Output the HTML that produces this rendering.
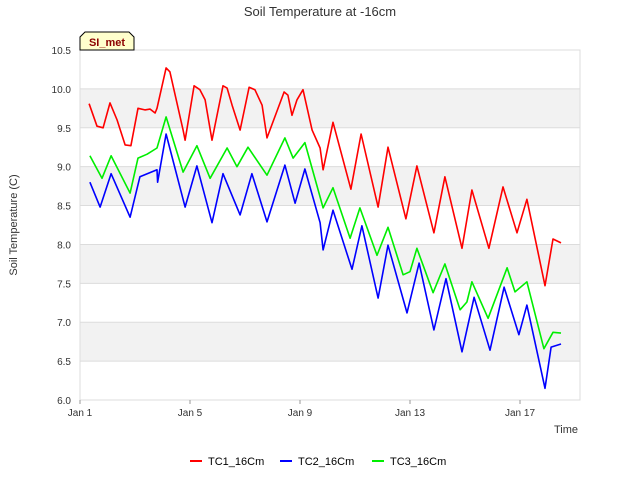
<!DOCTYPE html>
<html><head><meta charset="utf-8"><style>
body{margin:0;background:#fff}
svg text{font-family:"Liberation Sans","DejaVu Sans",sans-serif}
</style></head><body>
<svg id="chart" width="640" height="480" viewBox="0 0 640 480" xmlns="http://www.w3.org/2000/svg">
<rect width="640" height="480" fill="#fff"/>
<text x="320" y="16" text-anchor="middle" font-size="13" fill="#333">Soil Temperature at -16cm</text>
<g id="bands"></g>
<rect x="80" y="50" width="500" height="350" fill="none" stroke="#ddd"/>
<g id="yticks"></g><g id="xticks"></g>
<g id="series"></g>
<text transform="translate(17,225) rotate(-90)" text-anchor="middle" font-size="11" fill="#333">Soil Temperature (C)</text>
<text x="578" y="433" text-anchor="end" font-size="11" fill="#333">Time</text>
<g>
<path d="M80,50 L80,37 L85,32 L129,32 L134,37 L134,50 Z" fill="#ffffcc" stroke="#000" stroke-width="1"/>
<text x="107" y="46" text-anchor="middle" font-size="11" font-weight="bold" fill="#8b0000">SI_met</text>
</g>
<g id="legend"></g>
</svg>
<script>
const yTicks=[6.0,6.5,7.0,7.5,8.0,8.5,9.0,9.5,10.0,10.5];
const xTickDays=[0,4,8,12,16];
const xTickLabels=["Jan 1","Jan 5","Jan 9","Jan 13","Jan 17"];
const seriesNames=["TC1_16Cm","TC2_16Cm","TC3_16Cm"];
const seriesColors=["#ff0000","#0000ff","#00ee00"];
const tc1Days=[0.33,0.62,0.84,1.09,1.35,1.64,1.85,2.11,2.36,2.55,2.73,2.8,3.13,3.27,3.75,3.82,4.15,4.36,4.55,4.8,5.2,5.35,5.53,5.82,6.15,6.36,6.62,6.8,7.42,7.56,7.71,7.89,8.11,8.44,8.73,8.84,9.2,9.85,10.22,10.84,11.2,11.85,12.25,12.87,13.27,13.89,14.25,14.87,15.38,15.89,16.25,16.91,17.2,17.49];
const tc1Vals=[9.81,9.52,9.5,9.82,9.6,9.28,9.27,9.75,9.73,9.74,9.69,9.75,10.27,10.22,9.47,9.34,10.04,9.99,9.86,9.34,10.04,10.01,9.79,9.47,10.02,9.99,9.79,9.37,9.96,9.92,9.66,9.86,9.99,9.47,9.24,8.96,9.57,8.71,9.42,8.48,9.25,8.33,9.01,8.15,8.87,7.95,8.7,7.95,8.74,8.15,8.58,7.47,8.07,8.02];
const tc2Days=[0.36,0.73,1.13,1.82,2.18,2.8,2.82,3.13,3.82,4.25,4.8,5.2,5.82,6.25,6.8,7.45,7.82,8.18,8.73,8.84,9.2,9.89,10.25,10.84,11.2,11.89,12.33,12.87,13.31,13.89,14.33,14.91,15.42,15.96,16.25,16.91,17.13,17.49];
const tc2Vals=[8.8,8.48,8.91,8.35,8.87,8.96,8.8,9.42,8.48,9.01,8.28,8.91,8.38,8.91,8.29,9.02,8.53,8.97,8.28,7.93,8.44,7.68,8.24,7.31,7.99,7.12,7.76,6.9,7.56,6.62,7.32,6.64,7.45,6.84,7.22,6.15,6.68,6.72];
const tc3Days=[0.36,0.8,1.13,1.82,2.11,2.44,2.8,3.13,3.75,4.25,4.73,5.35,5.71,6.11,6.8,7.45,7.75,8.18,8.73,8.84,9.2,9.82,10.18,10.8,11.2,11.75,12.0,12.25,12.84,13.27,13.82,14.07,14.25,14.84,15.53,15.82,16.25,16.87,17.2,17.49];
const tc3Vals=[9.14,8.85,9.14,8.66,9.11,9.16,9.24,9.64,8.93,9.27,8.85,9.24,9.0,9.25,8.89,9.37,9.11,9.31,8.61,8.47,8.73,8.08,8.47,7.86,8.22,7.61,7.65,7.95,7.38,7.75,7.16,7.26,7.52,7.05,7.7,7.39,7.52,6.66,6.87,6.86];

const NS="http://www.w3.org/2000/svg";
const X=d=>80+d*27.5;
const Y=v=>400-(v-6)*(350/4.5);
function mk(tag,attrs,parent){const e=document.createElementNS(NS,tag);for(const k in attrs)e.setAttribute(k,attrs[k]);parent.appendChild(e);return e;}
const bands=document.getElementById('bands');
for(let v=6.5;v<10.5;v+=1){
 const r=mk('rect',{x:80,y:Y(v+0.5),width:500,height:Y(v)-Y(v+0.5),fill:'#f2f2f2'},bands);
 
 
}
const yt=document.getElementById('yticks');
yTicks.forEach(v=>{
 const l=mk('line',{x1:80,x2:580,y1:Y(v),y2:Y(v),stroke:'#dcdcdc'},yt);
 
 
 const t=mk('text',{x:71,y:Y(v)+4,'text-anchor':'end','font-size':10,fill:'#333'},yt);
 
 
 t.textContent=v.toFixed(1);
});
const xt=document.getElementById('xticks');
xTickDays.forEach((d,i)=>{
 const l=mk('line',{x1:X(d),x2:X(d),y1:400,y2:404,stroke:'#999'},xt);
 
 
 const t=mk('text',{x:X(d),y:416,'text-anchor':'middle','font-size':10,fill:'#333'},xt);
 
 
 t.textContent=xTickLabels[i];
});
const sg=document.getElementById('series');
[[tc1Days,tc1Vals],[tc2Days,tc2Vals],[tc3Days,tc3Vals]].forEach((s,i)=>{
 const pts=s[0].map((d,j)=>X(d).toFixed(1)+','+Y(s[1][j]).toFixed(1)).join(' ');
 const p=mk('polyline',{points:pts,fill:'none',stroke:seriesColors[i],'stroke-width':1.6,'stroke-linejoin':'round'},sg);
 
 
});
const lg=document.getElementById('legend');
const lx=[190,280,372];
seriesNames.forEach((n,i)=>{
 const g=mk('g',{},lg);
 
 
 mk('line',{x1:lx[i],x2:lx[i]+12,y1:461,y2:461,stroke:seriesColors[i],'stroke-width':2},g);
 const t=mk('text',{x:lx[i]+18,y:465,'font-size':11,fill:'#000'},g);
 t.textContent=n;
});
</script>
</body></html>
